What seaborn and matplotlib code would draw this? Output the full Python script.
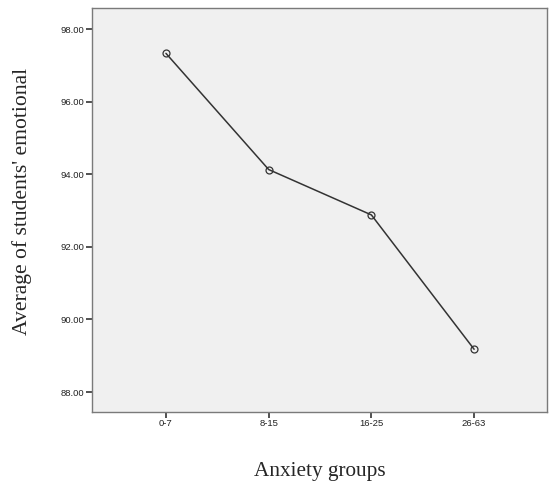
import pandas as pd
import seaborn as sns
import matplotlib.pyplot as plt

# Mean emotional score per anxiety group
groups = ["0-7", "8-15", "16-25", "26-63"]
means = [97.33, 94.13, 92.88, 89.18]
y_ticks = [88, 90, 92, 94, 96, 98]

df = pd.DataFrame({"group": groups, "mean": means})

sns.set_style("ticks")
plt.rcParams["font.family"] = ["Liberation Sans", "DejaVu Sans"]

fig = plt.figure(figsize=(5.49, 4.84), dpi=100)
ax = fig.add_axes([0.1676, 0.1494, 0.8288, 0.8341])
ax.set_facecolor("#f0f0f0")

sns.lineplot(data=df, x="group", y="mean", ax=ax, sort=False,
             color="#333333", linewidth=1.1, marker="o", markersize=5,
             markerfacecolor="none", markeredgecolor="#333333",
             markeredgewidth=0.9)

ax.set_xlim(-0.72, 3.71)
ax.set_ylim(87.46, 98.58)
ax.set_yticks(y_ticks)
ax.set_yticklabels([f"{v:.2f}" for v in y_ticks])
ax.tick_params(bottom=True, left=True, top=False, right=False,
               labelsize=6.8, length=4, width=1.2, color="#333333",
               labelcolor="#222222", pad=1.5, direction="out")

for s in ax.spines.values():
    s.set_visible(True)
    s.set_color("#7a7a7a")
    s.set_linewidth(1.0)

ax.set_xlabel("Anxiety groups", family="Liberation Serif", fontsize=15.3,
              labelpad=24)
ax.set_ylabel("Average of students' emotional", family="Liberation Serif",
              fontsize=15.6)
ax.yaxis.set_label_coords(-0.132, 0.521)

fig.savefig("out.png", dpi=100)
